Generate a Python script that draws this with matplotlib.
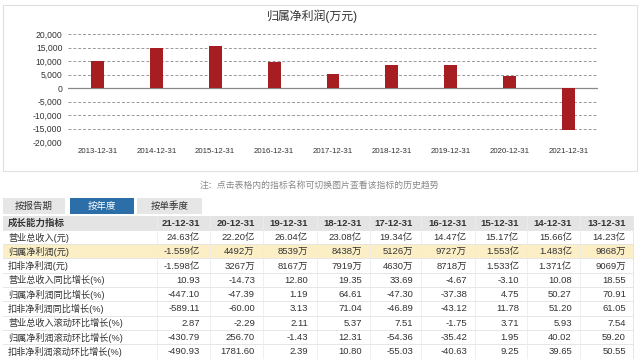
import matplotlib
matplotlib.use("Agg")
import matplotlib.pyplot as plt
from matplotlib.patches import Rectangle
from matplotlib.ticker import FuncFormatter

plt.rcParams['font.family'] = ['Liberation Sans', 'Noto Sans CJK SC', 'DejaVu Sans']

# ---------------- data ----------------
title = "归属净利润(万元)"
years = ["2013-12-31", "2014-12-31", "2015-12-31", "2016-12-31", "2017-12-31",
         "2018-12-31", "2019-12-31", "2020-12-31", "2021-12-31"]
profit = [9868, 14830, 15530, 9727, 5126, 8438, 8539, 4492, -15590]
yticks = [-20000, -15000, -10000, -5000, 0, 5000, 10000, 15000, 20000]

note = "注：点击表格内的指标名称可切换图片查看该指标的历史趋势"
tabs = ["按报告期", "按年度", "按单季度"]
col_headers = ["21-12-31", "20-12-31", "19-12-31", "18-12-31", "17-12-31",
               "16-12-31", "15-12-31", "14-12-31", "13-12-31"]
header_label = "成长能力指标"
row_labels = ["营业总收入(元)", "归属净利润(元)", "扣非净利润(元)",
              "营业总收入同比增长(%)", "归属净利润同比增长(%)", "扣非净利润同比增长(%)",
              "营业总收入滚动环比增长(%)", "归属净利润滚动环比增长(%)", "扣非净利润滚动环比增长(%)"]
row_revenue = ["24.63亿", "22.20亿", "26.04亿", "23.08亿", "19.34亿", "14.47亿", "15.17亿", "15.66亿", "14.23亿"]
row_netprofit = ["-1.559亿", "4492万", "8539万", "8438万", "5126万", "9727万", "1.553亿", "1.483亿", "9868万"]
row_deducted = ["-1.598亿", "3267万", "8167万", "7919万", "4630万", "8718万", "1.533亿", "1.371亿", "9069万"]
row_rev_yoy = ["10.93", "-14.73", "12.80", "19.35", "33.69", "-4.67", "-3.10", "10.08", "18.55"]
row_np_yoy = ["-447.10", "-47.39", "1.19", "64.61", "-47.30", "-37.38", "4.75", "50.27", "70.91"]
row_ded_yoy = ["-589.11", "-60.00", "3.13", "71.04", "-46.89", "-43.12", "11.78", "51.20", "61.05"]
row_rev_qoq = ["2.87", "-2.29", "2.11", "5.37", "7.51", "-1.75", "3.71", "5.93", "7.54"]
row_np_qoq = ["-430.79", "256.70", "-1.43", "12.31", "-54.36", "-35.42", "1.95", "40.02", "59.20"]
row_ded_qoq = ["-490.93", "1781.60", "2.39", "10.80", "-55.03", "-40.63", "9.25", "39.65", "50.55"]
rows = [row_revenue, row_netprofit, row_deducted, row_rev_yoy, row_np_yoy,
        row_ded_yoy, row_rev_qoq, row_np_qoq, row_ded_qoq]

# ---------------- figure ----------------
W, H = 640, 359
fig = plt.figure(figsize=(W / 100, H / 100), dpi=100)
fig.patch.set_facecolor("white")

# overlay axes in pixel coordinates
ov = fig.add_axes([0, 0, 1, 1])
ov.set_xlim(0, W)
ov.set_ylim(H, 0)
ov.axis("off")

# chart frame
ov.add_patch(Rectangle((2.5, 4.5), 634, 166, fill=False, ec="#e0e0e0", lw=0.8))

# chart axes
L, R, T, B = 68, 598, 34, 142
ax = fig.add_axes([L / W, 1 - B / H, (R - L) / W, (B - T) / H])
ax.set_facecolor("none")
x = range(len(years))
ax.bar(x, profit, width=0.22, color="#a61d22", zorder=3)
ax.set_xlim(-0.5, len(years) - 0.5)
ax.set_ylim(-20000, 20000)
ax.set_yticks(yticks)
ax.yaxis.set_major_formatter(FuncFormatter(lambda v, p: f"{int(v):,}"))
ax.set_xticks(list(x))
ax.set_xticklabels(years)
for s in ax.spines.values():
    s.set_visible(False)
ax.tick_params(length=0, colors="#333333", pad=4)
ax.tick_params(axis="x", labelsize=5.7)
ax.tick_params(axis="y", labelsize=6.2)
for t in yticks:
    if t == 0:
        ax.axhline(t, color="#888888", lw=0.9, zorder=2)
    else:
        ax.axhline(t, color="#999999", lw=0.7, ls=(0, (3, 2)), zorder=1)
ov.text(312, 16, title, ha="center", va="center", fontsize=8.6, color="#333333")

# note
ov.text(200, 185, note, ha="left", va="center", fontsize=6.4, color="#888888")

# tabs
tab_x = [(3, 65), (70, 134), (137, 202)]
for (x0, x1), label in zip(tab_x, tabs):
    active = label == "按年度"
    ov.add_patch(Rectangle((x0, 198), x1 - x0, 16,
                           color="#2b6ea8" if active else "#e6e6e6", lw=0))
    ov.text((x0 + x1) / 2, 206.5, label, ha="center", va="center", fontsize=6.8,
            color="white" if active else "#333333")

# table
row_h = 14.3
top = 215.5
col_right = [200, 255, 308, 362, 413, 467, 519, 572, 626]
seps = [157, 210, 263, 317, 370, 421, 475, 527, 580]
tbl_left, tbl_right = 3, 633
n_rows = len(rows) + 1
# header bg
ov.add_patch(Rectangle((tbl_left, top), tbl_right - tbl_left, row_h, color="#e4e4e4", lw=0))
# highlight row
ov.add_patch(Rectangle((tbl_left, top + 2 * row_h), tbl_right - tbl_left, row_h,
                       color="#fcefc6", lw=0))
for i in range(1, n_rows + 1):
    yy = top + i * row_h
    ov.plot([tbl_left, tbl_right], [yy, yy], color="#e2e2e2", lw=0.6)
for sx in seps:
    ov.plot([sx, sx], [top, H], color="#ececec", lw=0.6)
ov.plot([tbl_right, tbl_right], [top, H], color="#e2e2e2", lw=0.6)

yc = top + row_h / 2 + 0.5
ov.text(8, yc, header_label, ha="left", va="center", fontsize=6.8,
        color="#333333", fontweight="bold")
for cr, h in zip(col_right, col_headers):
    ov.text(cr, yc, h, ha="right", va="center", fontsize=6.8, color="#333333",
            fontweight="bold")
for i, (lab, vals) in enumerate(zip(row_labels, rows)):
    yc = top + (i + 1) * row_h + row_h / 2 + 0.5
    ov.text(8, yc, lab, ha="left", va="center", fontsize=6.6, color="#333333")
    for cr, v in zip(col_right, vals):
        ov.text(cr, yc, v, ha="right", va="center", fontsize=6.8, color="#333333")

fig.savefig("out.png", dpi=100, facecolor="white")
